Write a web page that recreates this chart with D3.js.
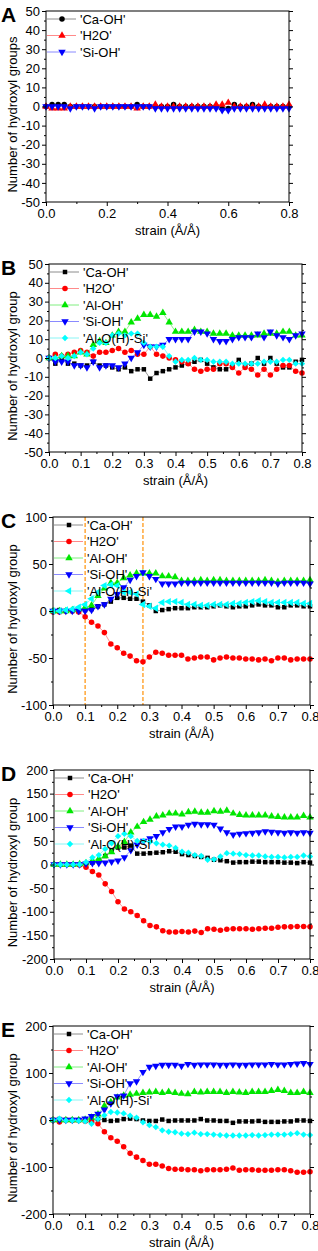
<!DOCTYPE html>
<html>
<head>
<meta charset="utf-8">
<script src="https://cdn.jsdelivr.net/npm/d3@7"></script>
<style>
  body { margin: 0; background: #fff; }
  svg { display: block; font-family: "Liberation Sans", Arial, sans-serif; }
</style>
</head>
<body>
<div id="chart"></div>
<script>
// strain values (Å/Å), shared by every panel
const strain = [0.00, 0.02, 0.04, 0.06, 0.08, 0.10, 0.12, 0.14, 0.16, 0.18,
    0.20, 0.22, 0.24, 0.26, 0.28, 0.30, 0.32, 0.34, 0.36, 0.38,
    0.40, 0.42, 0.44, 0.46, 0.48, 0.50, 0.52, 0.54, 0.56, 0.58,
    0.60, 0.62, 0.64, 0.66, 0.68, 0.70, 0.72, 0.74, 0.76, 0.78, 0.80];

// Panel A
const aCaOH = [0, 1, 1, 1, 0, 0, 0, 0, 0, 0, 0, 0, 0, 0, 0, 1, 0, 0, 0, 0, 0, 1, 0, 0, 0, 0, 0, 0, 0, -1, -1, 1, 0, 0, 1, 0, 0, 0, 0, 0, 0];
const aH2O = [0, -1, -1, -1, 0, 0, 0, 0, 0, 0, 0, 0, 0, 0, 0, -1, 0, 0, 1, 0, 0, 0, 0, 0, 0, 0, 0, 0, 1, 1, 2, 0, 0, 0, 0, 0, 1, 0, 0, 0, 1];
const aSiOH = [0, 0, 0, 0, -1, 0, 0, 0, -1, 0, 0, 0, 0, 0, 0, 0, 0, 0, -1, -1, -1, -1, -1, -1, -1, -1, -1, -1, -1, -2, -2, -1, -1, -1, -1, -1, -1, -1, -1, -1, -1];

// Panel B
const bCaOH = [0, -3, -1, -3, -3, -4, -4, -2, -4, -4, -5, -6, -5, -7, -6, -6, -11, -8, -7, -6, -5, -4, -3, -2, -1, -3, -5, -6, -6, -4, -1, -4, -3, 0, -3, 0, -3, -5, -5, -2, -1];
const bH2O = [0, 2, 1, 2, 3, 4, 3, 1, 3, 3, 4, 5, 3, 4, 2, 2, 6, 2, 1, 0, -1, -2, -3, -6, -7, -6, -6, -3, -3, -5, -8, -5, -6, -9, -6, -9, -6, -4, -4, -7, -8];
const bAlOH = [0, 0, 1, 1, 1, 3, 2, 7, 9, 8, 12, 14, 14, 19, 21, 23, 23, 22, 24, 19, 14, 14, 14, 15, 14, 14, 13, 13, 13, 12, 12, 12, 12, 12, 13, 13, 13, 14, 14, 12, 12];
const bSiOH = [0, -2, -2, -2, -4, -4, -5, -2, -5, -4, -4, -5, -3, 0, 3, 7, 6, 6, 7, 10, 10, 10, 10, 14, 14, 13, 10, 9, 9, 10, 11, 11, 11, 13, 11, 14, 12, 11, 10, 12, 13];
const bAlOSi = [0, 0, 1, 0, 1, 3, 2, 5, 8, 8, 12, 13, 12, 13, 13, 8, 6, 6, 6, 1, -2, -1, -1, 0, -1, -1, -2, -2, -2, -3, -3, -3, -3, -3, -2, -2, -2, -1, -1, -3, -3];

// Panel C
const cCaOH = [0, 1, 0, 0, 0, 1, 2, 5, 7, 10, 14, 14, 13, 13, 10, 6, 0, 1, 2, 3, 3, 3, 4, 4, 4, 5, 6, 5, 4, 5, 5, 6, 7, 6, 6, 4, 4, 6, 6, 5, 5];
const cH2O = [-1, -1, 0, 0, -1, -6, -12, -16, -23, -35, -39, -45, -48, -53, -54, -49, -44, -45, -47, -47, -47, -51, -50, -49, -49, -52, -50, -49, -50, -50, -51, -51, -52, -51, -53, -50, -50, -52, -51, -51, -51];
const cAlOH = [0, 0, 0, 1, 2, 4, 6, 16, 24, 30, 30, 35, 38, 40, 40, 40, 40, 37, 37, 36, 32, 32, 32, 33, 32, 33, 33, 32, 32, 32, 32, 32, 32, 33, 32, 31, 32, 32, 32, 32, 33];
const cSiOH = [0, 0, 0, 0, 0, 0, 1, 5, 7, 13, 18, 25, 33, 37, 41, 37, 34, 29, 29, 29, 30, 30, 30, 30, 30, 30, 30, 30, 30, 30, 30, 30, 30, 30, 30, 29, 30, 30, 30, 30, 29];
const cAlOSi = [0, 0, 1, 2, 4, 7, 13, 20, 27, 28, 27, 20, 20, 18, 7, 5, 3, 9, 10, 10, 9, 7, 7, 6, 6, 7, 7, 7, 8, 8, 9, 10, 11, 10, 9, 9, 9, 9, 9, 8, 8];
const cGuides = [0.10, 0.28];

// Panel D
const dCaOH = [0, 0, 0, 0, 0, 2, 4, 8, 18, 30, 36, 36, 40, 23, 23, 24, 25, 26, 28, 27, 22, 20, 18, 16, 14, 10, 9, 7, 4, 5, 5, 6, 6, 5, 5, 5, 4, 4, 3, 5, 4];
const dH2O = [0, 0, 0, 0, -1, -6, -15, -22, -41, -57, -79, -94, -100, -108, -119, -129, -132, -140, -143, -143, -142, -143, -141, -144, -136, -137, -139, -137, -136, -136, -136, -137, -136, -135, -135, -133, -132, -132, -131, -131, -132];
const dAlOH = [0, 0, 0, 0, 1, 3, 8, 12, 18, 26, 38, 48, 68, 80, 90, 95, 102, 104, 108, 108, 106, 111, 112, 110, 110, 113, 112, 114, 108, 105, 104, 104, 104, 104, 102, 101, 100, 100, 100, 103, 100];
const dSiOH = [0, 0, 0, 0, 0, 2, 3, 3, 4, 6, 8, 15, 30, 42, 50, 55, 60, 68, 75, 80, 80, 84, 86, 85, 85, 84, 76, 68, 63, 65, 66, 67, 68, 70, 69, 68, 67, 68, 67, 68, 67];
const dAlOSi = [0, 0, 0, 0, 0, 5, 15, 20, 33, 45, 60, 65, 60, 50, 50, 48, 45, 42, 40, 35, 27, 25, 20, 18, 10, 11, 17, 24, 23, 22, 20, 19, 19, 17, 16, 16, 15, 16, 16, 19, 17];

// Panel E
const eCaOH = [0, 2, 0, 0, 0, -2, -2, 2, 0, -2, -1, 2, 3, 2, -1, -2, -2, 1, -2, -1, -1, -1, -1, 2, -1, -1, -2, -2, -6, -3, -3, -3, -2, -4, -4, -4, -3, -3, -1, -1, -2];
const eH2O = [0, -4, 0, -1, -1, -2, -4, -8, -25, -38, -45, -57, -71, -79, -86, -94, -94, -98, -103, -105, -105, -106, -106, -108, -106, -106, -106, -105, -102, -107, -106, -106, -107, -107, -107, -106, -106, -108, -111, -111, -110];
const eAlOH = [0, 0, 0, 0, 0, 1, 5, 12, 30, 38, 48, 52, 54, 56, 58, 59, 60, 58, 60, 58, 56, 55, 60, 59, 60, 60, 60, 58, 60, 59, 58, 60, 60, 60, 62, 64, 62, 58, 58, 60, 58];
const eSiOH = [0, 0, 0, 0, 0, 3, 8, 13, 22, 35, 50, 52, 78, 82, 102, 113, 115, 117, 117, 117, 115, 119, 117, 118, 118, 118, 117, 117, 118, 117, 117, 118, 118, 118, 119, 118, 118, 119, 120, 121, 119];
const eAlOSi = [0, 3, -1, -1, -2, -3, -8, 2, 10, 17, 16, 14, 9, 5, -5, -11, -15, -22, -25, -26, -29, -30, -27, -30, -30, -31, -32, -33, -33, -33, -33, -32, -33, -32, -31, -31, -31, -30, -28, -31, -32];

// axis ticks
const xTicksWide = [0.0, 0.2, 0.4, 0.6, 0.8];
const xMinorWide = [0.1, 0.3, 0.5, 0.7];
const xTicks = [0.0, 0.1, 0.2, 0.3, 0.4, 0.5, 0.6, 0.7, 0.8];
const xMinor = [0.05, 0.15, 0.25, 0.35, 0.45, 0.55, 0.65, 0.75];
const yTicks50 = [-50, -40, -30, -20, -10, 0, 10, 20, 30, 40, 50];
const yMinor50 = [-45, -35, -25, -15, -5, 5, 15, 25, 35, 45];
const yTicks100 = [-100, -50, 0, 50, 100];
const yMinor100 = [-75, -25, 25, 75];
const yTicks200 = [-200, -150, -100, -50, 0, 50, 100, 150, 200];
const yMinor200 = [-175, -125, -75, -25, 25, 75, 125, 175];
const yTicks200w = [-200, -100, 0, 100, 200];
const yMinor200w = [-150, -50, 50, 150];

const sty = {
    ca: { name: "'Ca-OH'", fill: "#000000", line: "#8c8c8c", shape: "square" },
    h2o: { name: "'H2O'", fill: "#ff0000", line: "#ff8a8a", shape: "circle" },
    al: { name: "'Al-OH'", fill: "#00e600", line: "#80ee80", shape: "up" },
    si: { name: "'Si-OH'", fill: "#0000ff", line: "#8a8aff", shape: "down" },
    alsi: { name: "'Al-O(H)-Si'", fill: "#00ffff", line: "#8af5f5", shape: "diamond" }
};

const panels = [
    { letter: "A", left: 46, right: 289, top: 11, bottom: 202, domain: [-50, 50],
      yT: yTicks50, yM: yMinor50, xT: xTicksWide, xM: xMinorWide, title: "Number of hydroxyl groups",
      series: [
          { ...sty.ca, shape: "circle", values: aCaOH },
          { ...sty.h2o, shape: "up", values: aH2O },
          { ...sty.si, values: aSiOH }
      ] },
    { letter: "B", left: 49, right: 302, top: 264, bottom: 452, domain: [-50, 50],
      yT: yTicks50, yM: yMinor50, xT: xTicks, xM: xMinor, title: "Number of hydroxyl group",
      series: [
          { ...sty.ca, values: bCaOH }, { ...sty.h2o, values: bH2O }, { ...sty.al, values: bAlOH },
          { ...sty.si, values: bSiOH }, { ...sty.alsi, values: bAlOSi }
      ] },
    { letter: "C", left: 53, right: 310, top: 517, bottom: 705, domain: [-100, 100],
      yT: yTicks100, yM: yMinor100, xT: xTicks, xM: xMinor, title: "Number of hydroxyl group",
      guides: cGuides,
      series: [
          { ...sty.ca, values: cCaOH }, { ...sty.h2o, values: cH2O }, { ...sty.al, values: cAlOH },
          { ...sty.si, values: cSiOH }, { ...sty.alsi, shape: "left", values: cAlOSi }
      ] },
    { letter: "D", left: 54, right: 310, top: 770, bottom: 959, domain: [-200, 200],
      yT: yTicks200, yM: yMinor200, xT: xTicks, xM: xMinor, title: "Number of hydroxyl group",
      series: [
          { ...sty.ca, values: dCaOH }, { ...sty.h2o, values: dH2O }, { ...sty.al, values: dAlOH },
          { ...sty.si, values: dSiOH }, { ...sty.alsi, values: dAlOSi }
      ] },
    { letter: "E", left: 53, right: 310, top: 1026, bottom: 1214, domain: [-200, 200],
      yT: yTicks200w, yM: yMinor200w, xT: xTicks, xM: xMinor, title: "Number of hydroxyl group",
      series: [
          { ...sty.ca, values: eCaOH }, { ...sty.h2o, values: eH2O }, { ...sty.al, values: eAlOH },
          { ...sty.si, values: eSiOH }, { ...sty.alsi, values: eAlOSi }
      ] }
];

const svg = d3.select("#chart").append("svg")
    .attr("width", 318)
    .attr("height", 1251);

function marker(g, shape, x, y, fill) {
    let type = d3.symbolTriangle, size = 24, rot = 0;
    if (shape === "square") { type = d3.symbolSquare; size = 20; }
    else if (shape === "circle") { type = d3.symbolCircle; size = 24; }
    else if (shape === "down") { rot = 180; }
    else if (shape === "left") { rot = -90; }
    else if (shape === "diamond") { type = d3.symbolSquare; size = 20; rot = 45; }
    g.append("path")
        .attr("d", d3.symbol().type(type).size(size)())
        .attr("transform", `translate(${x},${y}) rotate(${rot})`)
        .attr("fill", fill);
}

const fmtY = d => String(d);
const fmtX = d3.format(".1f");

panels.forEach(p => {
    const g = svg.append("g");
    const x = d3.scaleLinear().domain([0, 0.8]).range([p.left, p.right]);
    const y = d3.scaleLinear().domain(p.domain).range([p.bottom, p.top]);

    // orange guide lines (panel C)
    (p.guides || []).forEach(v => {
        g.append("line")
            .attr("x1", x(v)).attr("x2", x(v))
            .attr("y1", p.top).attr("y2", p.bottom)
            .attr("stroke", "#ff9a1a").attr("stroke-width", 1.3)
            .attr("stroke-dasharray", "4,2");
    });

    // lines then markers
    p.series.forEach(s => {
        g.append("path")
            .datum(s.values)
            .attr("fill", "none")
            .attr("stroke", s.line)
            .attr("stroke-width", 0.9)
            .attr("d", d3.line().x((d, i) => x(strain[i])).y(d => y(d)));
    });
    p.series.forEach(s => {
        s.values.forEach((v, i) => marker(g, s.shape, x(strain[i]), y(v), s.fill));
    });

    // legend
    p.series.forEach((s, i) => {
        const ly = p.top + 8 + i * 16.5;
        g.append("line")
            .attr("x1", p.left + 1).attr("x2", p.left + 30)
            .attr("y1", ly).attr("y2", ly)
            .attr("stroke", s.line).attr("stroke-width", 1);
        marker(g, s.shape, p.left + 16, ly, s.fill);
        g.append("text")
            .attr("x", p.left + 34).attr("y", ly)
            .attr("dy", "0.36em")
            .attr("font-size", "13px")
            .text(s.name);
    });

    // frame
    g.append("rect")
        .attr("x", p.left).attr("y", p.top)
        .attr("width", p.right - p.left).attr("height", p.bottom - p.top)
        .attr("fill", "none").attr("stroke", "#000").attr("stroke-width", 1);

    // axes
    const yAxisG = g.append("g").attr("transform", `translate(${p.left},0)`)
        .call(d3.axisLeft(y).tickValues(p.yT).tickSize(4).tickPadding(2).tickFormat(fmtY));
    g.append("g").attr("transform", `translate(${p.left},0)`)
        .call(d3.axisLeft(y).tickValues(p.yM).tickSize(2).tickFormat(""));
    g.append("g").attr("transform", `translate(${p.right},0)`)
        .call(d3.axisRight(y).tickValues(p.yT).tickSize(4).tickFormat(""));
    g.append("g").attr("transform", `translate(${p.right},0)`)
        .call(d3.axisRight(y).tickValues(p.yM).tickSize(2).tickFormat(""));
    const xAxisG = g.append("g").attr("transform", `translate(0,${p.bottom})`)
        .call(d3.axisBottom(x).tickValues(p.xT).tickSize(4).tickPadding(3).tickFormat(fmtX));
    g.append("g").attr("transform", `translate(0,${p.bottom})`)
        .call(d3.axisBottom(x).tickValues(p.xM).tickSize(2).tickFormat(""));

    g.selectAll(".domain").remove();
    g.selectAll(".tick text")
        .attr("font-family", "'Liberation Sans', Arial, sans-serif")
        .attr("font-size", "13px")
        .attr("fill", "#000");

    // titles
    g.append("text")
        .attr("x", (p.left + p.right) / 2).attr("y", p.bottom + 33)
        .attr("text-anchor", "middle")
        .attr("font-size", "13px")
        .text("strain (Å/Å)");
    g.append("text")
        .attr("transform", `translate(17,${(p.top + p.bottom) / 2 + 8}) rotate(-90)`)
        .attr("text-anchor", "middle")
        .attr("font-size", "13px")
        .text(p.title);
    g.append("text")
        .attr("x", 1).attr("y", p.top + 11)
        .attr("font-size", "21px")
        .attr("font-weight", "bold")
        .text(p.letter);
});
</script>
</body>
</html>
